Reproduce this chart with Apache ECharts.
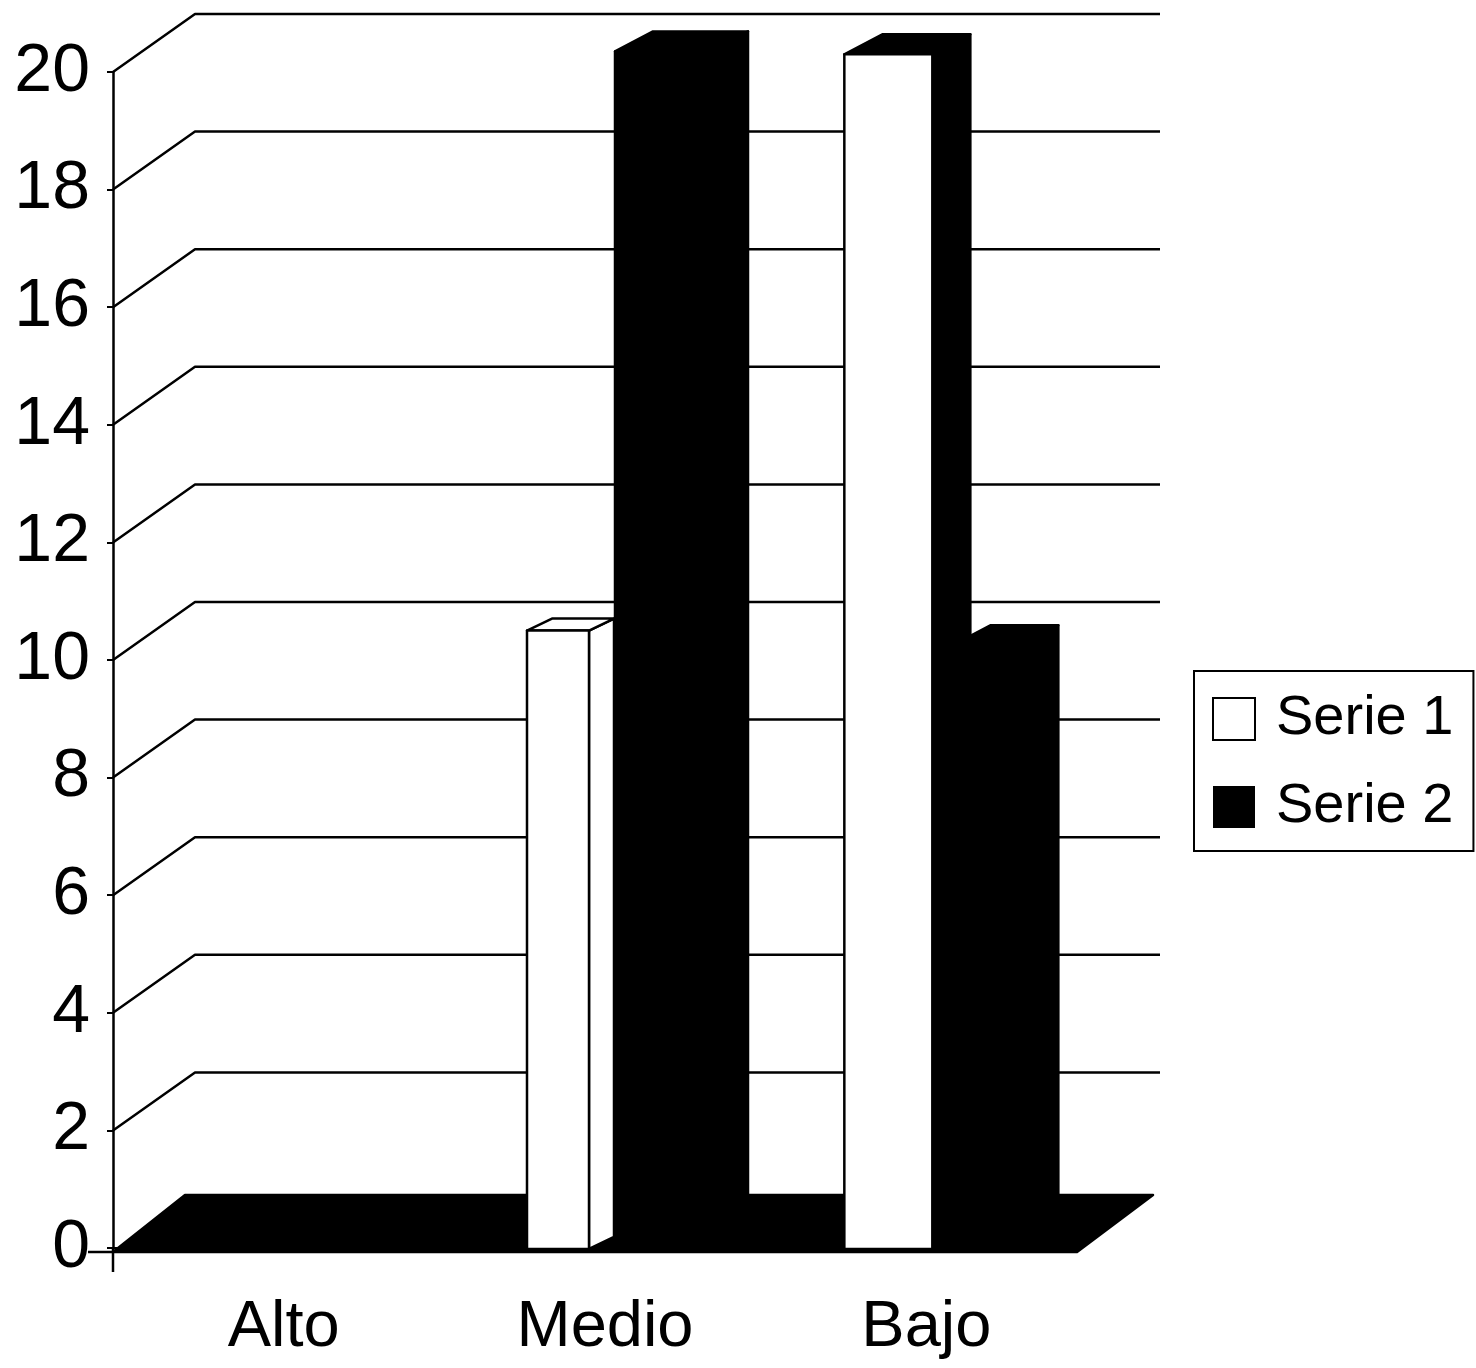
<!DOCTYPE html>
<html>
<head>
<meta charset="utf-8">
<title>Serie 1 / Serie 2</title>
<script src="https://cdn.jsdelivr.net/npm/echarts@6/dist/echarts.min.js"></script>
<style>
  html, body { margin: 0; padding: 0; background: #fff; }
  #chart { width: 1476px; height: 1368px; }
</style>
</head>
<body>
<div id="chart"></div>
<script>
const categories = ['Alto', 'Medio', 'Bajo']
const serie1 = [0, 10.5, 20.3]
const serie2 = [0, 20.35, 10.25]
const yTicks = [0, 2, 4, 6, 8, 10, 12, 14, 16, 18, 20]

// fake 3d: pixel offsets of each bar from its category centre
const barShape1 = [
  null,
  { left: -68, width: 62, dx: 25, dy: 12, side: '#fff', top: '#fff' },
  { left: -72, width: 88, dx: 38, dy: 20, side: '#000', top: '#000' }
]
const barShape2 = [
  null,
  { left: 20, width: 95, dx: 38, dy: 20, side: '#000', top: '#000' },
  { left: 36, width: 68, dx: 38, dy: 20, side: '#000', top: '#000' }
]
const wallDx = 82
const wallDy = 58
const wallEnd = 1160
const floorDx = 72
const floorDy = 57
const floorBackEnd = 1153
const floorDrop = 4

const chart = echarts.init(document.getElementById('chart'), null, { renderer: 'canvas' })

const poly = (points, fill) => ({
  type: 'polygon',
  shape: { points },
  style: { fill, stroke: '#000', lineWidth: 2.5, lineJoin: 'round' }
})

const renderWall = (params, api) => {
  const value = api.value(0)
  const y = api.coord([0, value])[1]
  const x = params.coordSys.x
  if (value === 0) {
    // long tick at the origin, no back line (the floor sits there)
    const line = { stroke: '#000', lineWidth: 2.5 }
    return {
      type: 'group',
      children: [
        { type: 'line', shape: { x1: x - 25, y1: y + floorDrop, x2: x, y2: y + floorDrop }, style: line },
        { type: 'line', shape: { x1: x, y1: y, x2: x, y2: y + 24 }, style: line }
      ]
    }
  }
  return {
    type: 'polyline',
    shape: { points: [[x, y], [x + wallDx, y - wallDy], [wallEnd, y - wallDy]] },
    style: { fill: null, stroke: '#000', lineWidth: 2.5, lineJoin: 'round' }
  }
}

const renderFloor = (params, api) => {
  const cs = params.coordSys
  const y = api.coord([0, 0])[1] + floorDrop
  return poly([
    [cs.x, y],
    [cs.x + floorDx, y - floorDy],
    [floorBackEnd, y - floorDy],
    [cs.x + cs.width, y]
  ], '#000')
}

const makeBarRenderer = (shapes, frontFill) => (params, api) => {
  const index = api.value(0)
  const value = api.value(1)
  const s = shapes[index]
  if (!s || !value) return null
  const center = api.coord([index, 0])
  const topY = api.coord([index, value])[1]
  const x0 = center[0] + s.left
  const x1 = x0 + s.width
  const bottomY = center[1] + 1
  return {
    type: 'group',
    children: [
      poly([[x1, topY], [x1 + s.dx, topY - s.dy], [x1 + s.dx, bottomY - s.dy], [x1, bottomY]], s.side),
      poly([[x0, topY], [x0 + s.dx, topY - s.dy], [x1 + s.dx, topY - s.dy], [x1, topY]], s.top),
      poly([[x0, topY], [x1, topY], [x1, bottomY], [x0, bottomY]], frontFill)
    ]
  }
}

chart.setOption({
  animation: false,
  backgroundColor: '#fff',
  textStyle: { fontFamily: '"Liberation Sans", Arial, sans-serif', color: '#000' },
  grid: { left: 113, right: 399, top: 72, bottom: 120 },
  legend: {
    left: 1194,
    top: 671,
    orient: 'vertical',
    icon: 'rect',
    itemWidth: 42,
    itemHeight: 42,
    itemGap: 32,
    padding: [20, 20, 16, 18],
    backgroundColor: '#fff',
    borderColor: '#000',
    borderWidth: 2,
    borderRadius: 0,
    selectedMode: false,
    data: ['Serie 1', 'Serie 2'],
    textStyle: { fontSize: 56, color: '#000', lineHeight: 42, padding: [0, 0, 0, 16], fontFamily: '"Liberation Sans", Arial, sans-serif' }
  },
  xAxis: {
    type: 'category',
    data: categories,
    axisLine: { lineStyle: { color: '#000', width: 2 } },
    axisTick: { show: false },
    axisLabel: { fontSize: 65, color: '#000', margin: 48, interval: 0, padding: [0, 0, 0, 20] }
  },
  yAxis: {
    type: 'value',
    min: 0,
    max: 20,
    interval: 2,
    axisLine: { show: true, lineStyle: { color: '#000', width: 2.5 } },
    axisTick: { show: true, length: 6, lineStyle: { color: '#000', width: 2 } },
    axisLabel: { fontSize: 68, color: '#000', margin: 23, padding: [12, 0, 0, 0] },
    splitLine: { show: false }
  },
  series: [
    { type: 'custom', name: 'wall', clip: false, silent: true, renderItem: renderWall, data: yTicks.map((v) => [v]), encode: { y: 0 }, z: 1 },
    { type: 'custom', name: 'floor', clip: false, silent: true, renderItem: renderFloor, data: [[0]], z: 2 },
    {
      type: 'custom',
      name: 'Serie 2',
      clip: false,
      itemStyle: { color: '#000' },
      renderItem: makeBarRenderer(barShape2, '#000'),
      data: serie2.map((v, i) => [i, v]),
      encode: { x: 0, y: 1 },
      z: 3
    },
    {
      type: 'custom',
      name: 'Serie 1',
      clip: false,
      itemStyle: { color: '#fff', borderColor: '#000', borderWidth: 2 },
      renderItem: makeBarRenderer(barShape1, '#fff'),
      data: serie1.map((v, i) => [i, v]),
      encode: { x: 0, y: 1 },
      z: 4
    }
  ]
})

window.addEventListener('resize', () => chart.resize())
</script>
</body>
</html>
